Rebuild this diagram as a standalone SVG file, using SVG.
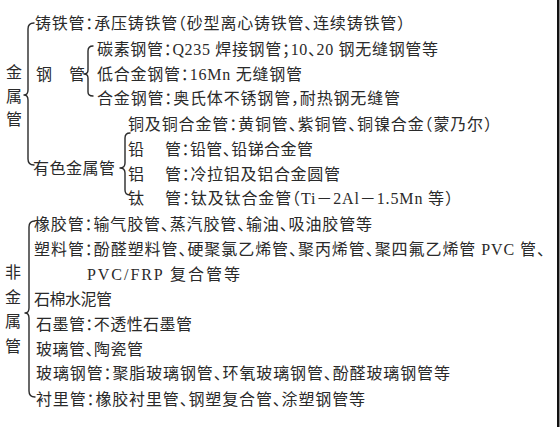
<svg xmlns="http://www.w3.org/2000/svg" width="560" height="427" viewBox="0 0 560 427">
<style>
text{font-family:"Liberation Serif","Noto Sans CJK SC",serif;font-size:16px;fill:#2a2a2a;font-feature-settings:"halt";}
.v{text-anchor:middle;}
.br{fill:none;stroke:#2a2a2a;stroke-width:1.4;stroke-linecap:round;stroke-linejoin:round;}
</style>
<rect x="0" y="0" width="560" height="427" fill="#ffffff"/>
<rect x="557" y="0" width="2.5" height="427" fill="#111111"/>
<g id="connectors">
<path class="br" d="M34 23 Q28 23 28 29 L28 90 Q28 95 24 95 Q28 95 28 100 L28 159 Q28 165 34 165"/>
<path class="br" d="M93 46 Q88 46 88 51 L88 70 Q88 74 84 74 Q88 74 88 78 L88 92 Q88 96 93 96"/>
<path class="br" d="M130 133 Q125 133 125 138 L125 163 Q125 168 120 168 Q125 168 125 173 L125 190 Q125 195 130 195"/>
<path class="br" d="M35 221 Q29 221 29 227 L29 308 Q29 313 25 313 Q29 313 29 318 L29 391 Q29 397 35 397"/>
</g>
<g id="metal">
<text class="v" x="14" y="78">金</text>
<text class="v" x="14" y="102">属</text>
<text class="v" x="14" y="125">管</text>
</g>
<g id="cast-iron"><text x="35" y="29" textLength="370" lengthAdjust="spacing">铸铁管：承压铸铁管（砂型离心铸铁管、连续铸铁管）</text></g>
<g id="steel">
<text y="80"><tspan x="36">钢</tspan><tspan x="69">管</tspan></text>
</g>
<g id="carbon-steel"><text x="97" y="55" textLength="341" lengthAdjust="spacing">碳素钢管：Q235 焊接钢管；10、20 钢无缝钢管等</text></g>
<g id="low-alloy"><text x="97" y="80" textLength="205" lengthAdjust="spacing">低合金钢管：16Mn 无缝钢管</text></g>
<g id="alloy"><text x="97" y="104" textLength="303" lengthAdjust="spacing">合金钢管：奥氏体不锈钢管，耐热钢无缝管</text></g>
<g id="nonferrous"><text x="33" y="174" textLength="82" lengthAdjust="spacing">有色金属管</text></g>
<g id="copper"><text x="128" y="130" textLength="364" lengthAdjust="spacing">铜及铜合金管：黄铜管、紫铜管、铜镍合金（蒙乃尔）</text></g>
<g id="lead"><text y="155"><tspan x="128">铅</tspan><tspan x="165" textLength="148" lengthAdjust="spacing">管：铅管、铅锑合金管</tspan></text></g>
<g id="aluminium"><text y="180"><tspan x="128">铝</tspan><tspan x="165" textLength="175" lengthAdjust="spacing">管：冷拉铝及铝合金圆管</tspan></text></g>
<g id="titanium"><text y="204"><tspan x="128">钛</tspan><tspan x="165" textLength="288" lengthAdjust="spacing">管：钛及钛合金管（Ti－2Al－1.5Mn 等）</tspan></text></g>
<g id="nonmetal">
<text class="v" x="13" y="278">非</text>
<text class="v" x="13" y="303">金</text>
<text class="v" x="13" y="327">属</text>
<text class="v" x="13" y="352">管</text>
</g>
<g id="rubber"><text x="34" y="230" textLength="338" lengthAdjust="spacing">橡胶管：输气胶管、蒸汽胶管、输油、吸油胶管等</text></g>
<g id="plastic">
<text x="34" y="255" textLength="511" lengthAdjust="spacing">塑料管：酚醛塑料管、硬聚氯乙烯管、聚丙烯管、聚四氟乙烯管 PVC 管、</text>
<text x="87" y="280" textLength="153" lengthAdjust="spacing">PVC/FRP 复合管等</text>
</g>
<g id="asbestos"><text x="34" y="305" textLength="78" lengthAdjust="spacing">石棉水泥管</text></g>
<g id="graphite"><text x="36" y="330" textLength="156" lengthAdjust="spacing">石墨管：不透性石墨管</text></g>
<g id="glass"><text x="36" y="355" textLength="107" lengthAdjust="spacing">玻璃管、陶瓷管</text></g>
<g id="frp"><text x="36" y="379" textLength="414" lengthAdjust="spacing">玻璃钢管：聚脂玻璃钢管、环氧玻璃钢管、酚醛玻璃钢管等</text></g>
<g id="lined"><text x="36" y="405" textLength="329" lengthAdjust="spacing">衬里管：橡胶衬里管、钢塑复合管、涂塑钢管等</text></g>
</svg>
